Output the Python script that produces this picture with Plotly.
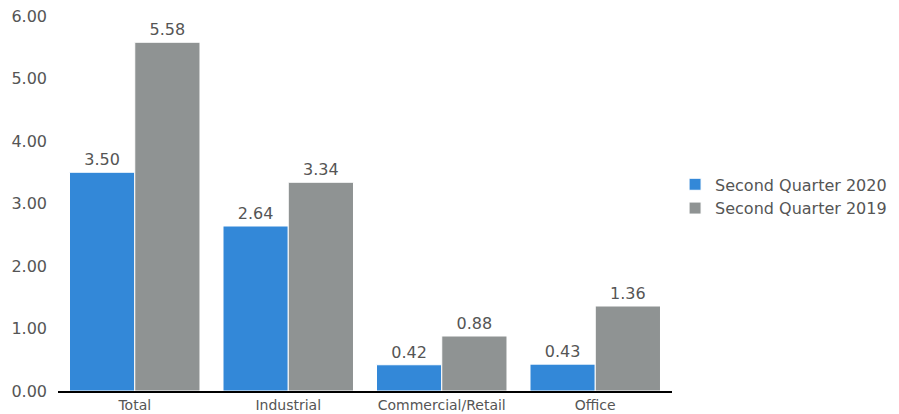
import plotly.graph_objects as go

categories = ["Total", "Industrial", "Commercial/Retail", "Office"]
q2_2020 = [3.50, 2.64, 0.42, 0.43]
q2_2019 = [5.58, 3.34, 0.88, 1.36]
series_names = ["Second Quarter 2020", "Second Quarter 2019"]
tick_vals = [0, 1, 2, 3, 4, 5, 6]
tick_text = ["0.00", "1.00", "2.00", "3.00", "4.00", "5.00", "6.00"]

font_family = "DejaVu Sans, sans-serif"
fig = go.Figure()
for name, vals, color in [(series_names[0], q2_2020, "#3388D8"),
                          (series_names[1], q2_2019, "#8F9393")]:
    fig.add_trace(go.Bar(
        x=categories, y=vals, name=name,
        marker=dict(color=color, line=dict(color="white", width=1)),
        text=[f"{v:.2f}" for v in vals], textposition="outside",
        textfont=dict(size=16, color="#555555", family=font_family),
        cliponaxis=False,
    ))

fig.update_layout(
    width=891, height=406,
    margin=dict(l=50, r=227, t=8, b=23, autoexpand=False),
    plot_bgcolor="white", paper_bgcolor="white",
    barmode="group", bargap=0.15, bargroupgap=0.0,
    font=dict(family=font_family, color="#555555"),
    showlegend=True,
    legend=dict(x=1.005, y=0.519, xanchor="left", yanchor="middle",
                font=dict(size=16, color="#555555"), itemwidth=30,
                tracegroupgap=0),
    xaxis=dict(showline=True, linecolor="black", linewidth=2, automargin=False,
               tickfont=dict(size=14, color="#555555"), ticks=""),
    yaxis=dict(range=[0, 6.0001], tickvals=tick_vals, ticktext=tick_text, automargin=False,
               showgrid=False, zeroline=False, showline=False, ticklabeloverflow="allow",
               tickfont=dict(size=16, color="#555555"), ticks="", ticklabelstandoff=10),
)
fig.write_html("out.html")
